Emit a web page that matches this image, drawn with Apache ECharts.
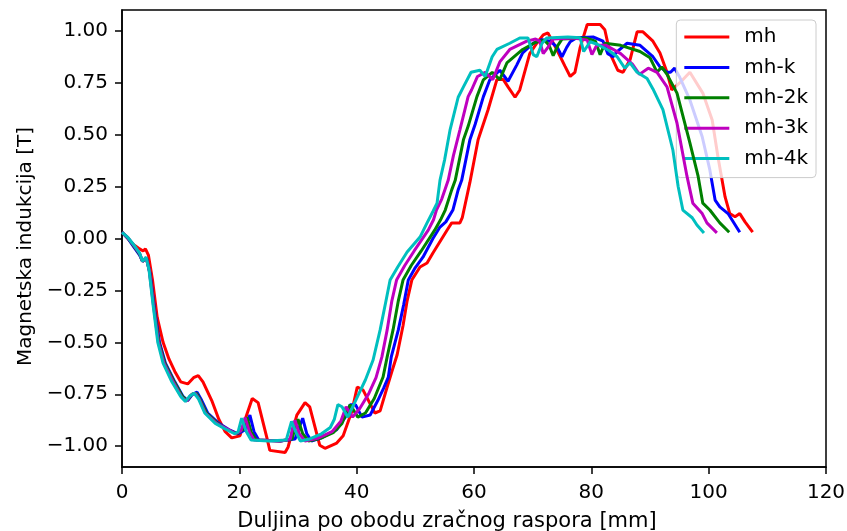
<!DOCTYPE html>
<html>
<head>
<meta charset="utf-8">
<script src="https://cdn.jsdelivr.net/npm/echarts@6/dist/echarts.min.js"></script>
<style>html,body{margin:0;padding:0;background:#fff}#c{width:847px;height:531px}</style>
</head>
<body>
<div id="c"></div>
<script>
const seriesNames = ['mh', 'mh-k', 'mh-2k', 'mh-3k', 'mh-4k'];
const seriesColors = ['#ff0000', '#0000ff', '#008000', '#bf00bf', '#00bfbf'];
const yTicks = [-1, -0.75, -0.5, -0.25, 0, 0.25, 0.5, 0.75, 1];

const mh = [[0,0.03],[1,0.0],[2,-0.03],[3,-0.05],[3.6,-0.06],[4.0,-0.05],[4.5,-0.08],[5.2,-0.2],[6,-0.38],[7,-0.5],[8,-0.58],[9,-0.64],[10,-0.69],[11.2,-0.70],[12.2,-0.67],[13,-0.66],[13.8,-0.69],[15.3,-0.78],[16.5,-0.87],[17.6,-0.93],[18.7,-0.96],[20.1,-0.95],[21,-0.87],[22.2,-0.77],[23.2,-0.79],[24.7,-0.96],[25.2,-1.02],[27.8,-1.03],[28.3,-1.005],[29.8,-0.85],[31.2,-0.79],[32,-0.81],[33.7,-0.995],[34.6,-1.01],[36.6,-0.985],[37.7,-0.95],[39.2,-0.83],[40.1,-0.715],[41.1,-0.73],[43.1,-0.84],[44,-0.83],[45.2,-0.715],[46,-0.64],[46.9,-0.56],[47.9,-0.42],[48.6,-0.3],[49.4,-0.2],[50.8,-0.137],[52,-0.118],[53,-0.07],[55.4,0.04],[56.2,0.075],[57.6,0.075],[58,0.10],[59.3,0.27],[60.7,0.475],[62.4,0.62],[63.9,0.765],[65,0.765],[65.8,0.73],[67,0.68],[67.8,0.715],[69.5,0.89],[70.7,0.94],[71.8,0.98],[72.6,0.99],[74.1,0.91],[75.5,0.83],[76.4,0.78],[77.2,0.80],[78.1,0.92],[79.3,1.03],[81.5,1.03],[82.3,1.005],[83.2,0.89],[84.5,0.81],[85.4,0.80],[86.6,0.86],[87.8,0.995],[88.8,0.995],[90.5,0.95],[91.7,0.893],[92.9,0.80],[93.7,0.715],[95.1,0.75],[96.8,0.80],[99,0.70],[100.6,0.57],[101.6,0.39],[102.8,0.20],[103.6,0.12],[104.5,0.105],[105.3,0.12],[106.2,0.08],[107.5,0.031]];

const mhK = [[0,0.03],[1,0.0],[2,-0.04],[3,-0.08],[3.5,-0.11],[4.2,-0.095],[4.8,-0.17],[5.6,-0.35],[6.4,-0.5],[7.4,-0.6],[9,-0.69],[10.4,-0.76],[11.2,-0.78],[12,-0.75],[12.8,-0.74],[13.6,-0.78],[14.6,-0.84],[16.5,-0.89],[18.2,-0.92],[19.8,-0.94],[21,-0.92],[21.8,-0.85],[22.5,-0.93],[23.3,-0.97],[27,-0.975],[29.5,-0.965],[30.2,-0.91],[30.8,-0.865],[31.5,-0.94],[32.3,-0.975],[34,-0.96],[36.6,-0.92],[38.3,-0.85],[38.9,-0.80],[39.8,-0.80],[40.9,-0.86],[42.3,-0.85],[43.6,-0.78],[44.6,-0.72],[45.4,-0.667],[45.9,-0.57],[47.1,-0.44],[48,-0.32],[48.8,-0.2],[50,-0.14],[51.3,-0.09],[53,0.0],[54.2,0.055],[55.2,0.08],[56.4,0.137],[57.3,0.234],[57.9,0.28],[59.3,0.475],[60.2,0.55],[61.6,0.683],[62.7,0.764],[64.4,0.81],[65.8,0.757],[67.3,0.836],[68.3,0.894],[70.1,0.94],[71.6,0.957],[73,0.95],[74.2,0.92],[75,0.875],[75.8,0.92],[76.4,0.947],[77.5,0.966],[80.3,0.97],[82,0.95],[82.8,0.89],[83.7,0.875],[84.4,0.90],[86.1,0.94],[88.3,0.93],[90.5,0.875],[91.7,0.826],[92.9,0.80],[93.5,0.80],[94.2,0.82],[95,0.78],[96.8,0.667],[98.9,0.49],[100.2,0.33],[101.1,0.185],[101.9,0.152],[103.3,0.12],[105.3,0.03]];

const mh2K = [[0,0.03],[1,0.003],[2,-0.035],[3,-0.075],[3.5,-0.11],[4.15,-0.093],[4.7,-0.16],[5.5,-0.34],[6.3,-0.5],[7.3,-0.6],[8.9,-0.69],[10.3,-0.76],[11.1,-0.78],[11.9,-0.75],[12.7,-0.745],[13.4,-0.78],[14.4,-0.84],[16.3,-0.89],[18,-0.92],[19.6,-0.94],[20.6,-0.92],[21.3,-0.86],[22,-0.93],[22.9,-0.97],[27,-0.975],[29,-0.965],[29.5,-0.91],[30,-0.87],[30.8,-0.94],[31.8,-0.975],[34,-0.96],[36,-0.935],[37.5,-0.89],[38.2,-0.84],[38.9,-0.80],[40.2,-0.86],[41.5,-0.84],[43,-0.77],[44.5,-0.667],[45.2,-0.57],[46.2,-0.44],[47.1,-0.30],[47.9,-0.2],[49.3,-0.13],[51,-0.06],[53.3,0.04],[54.3,0.09],[55.1,0.137],[56.2,0.234],[56.8,0.28],[58.2,0.475],[59,0.54],[60.5,0.683],[61.6,0.764],[63.1,0.80],[64.4,0.765],[65.6,0.845],[68.3,0.91],[70.5,0.945],[72,0.955],[72.8,0.93],[73.5,0.88],[74.3,0.93],[75,0.96],[79,0.965],[80.7,0.95],[81.5,0.885],[82.3,0.94],[85,0.93],[88.3,0.90],[90,0.87],[90.7,0.83],[91.2,0.80],[92,0.826],[92.9,0.79],[94.6,0.70],[96.8,0.46],[98.2,0.30],[99,0.17],[100.2,0.137],[101.9,0.075],[103.5,0.03]];

const mh3K = [[0,0.03],[1,0.004],[2,-0.033],[3,-0.072],[3.5,-0.11],[4.12,-0.092],[4.65,-0.155],[5.4,-0.33],[6.2,-0.5],[7.15,-0.6],[8.7,-0.69],[10.2,-0.765],[11,-0.783],[11.7,-0.755],[12.5,-0.745],[13.2,-0.775],[14.2,-0.84],[16.1,-0.89],[17.8,-0.915],[19.4,-0.94],[20.3,-0.925],[21,-0.862],[21.7,-0.93],[22.5,-0.97],[27,-0.975],[28.7,-0.965],[29.1,-0.91],[29.5,-0.875],[30.2,-0.94],[31.2,-0.975],[33.5,-0.96],[35.8,-0.93],[37.3,-0.88],[38.2,-0.81],[39.3,-0.86],[40.5,-0.82],[42,-0.75],[43.3,-0.67],[44.3,-0.57],[45.2,-0.44],[46,-0.30],[46.8,-0.2],[48.2,-0.13],[49.8,-0.06],[52.2,0.04],[53.1,0.09],[53.6,0.137],[54.5,0.19],[55.6,0.28],[56.5,0.40],[57.6,0.523],[59,0.683],[59.6,0.716],[60.6,0.78],[61.9,0.80],[63.2,0.765],[64.4,0.85],[66.1,0.91],[69,0.95],[70.5,0.96],[71.2,0.95],[71.8,0.89],[72.6,0.92],[73.5,0.96],[77,0.965],[79.3,0.955],[80.1,0.885],[80.9,0.93],[82.5,0.93],[85,0.89],[87,0.84],[88.2,0.79],[89.7,0.82],[91.2,0.80],[92.9,0.73],[94.6,0.556],[96.3,0.30],[97.3,0.17],[98.9,0.12],[99.7,0.075],[101.4,0.027]];

const mh4K = [[0,0.03],[1,0.005],[2,-0.03],[3,-0.07],[3.5,-0.11],[4.1,-0.09],[4.6,-0.15],[5.3,-0.32],[6.1,-0.5],[7,-0.6],[8.5,-0.69],[10,-0.76],[10.8,-0.785],[11.5,-0.76],[12.3,-0.745],[13,-0.77],[14.1,-0.84],[15.9,-0.89],[17.5,-0.915],[19.2,-0.94],[19.8,-0.93],[20.4,-0.865],[21.2,-0.93],[22,-0.97],[25,-0.975],[28,-0.97],[28.9,-0.88],[29.6,-0.93],[30.4,-0.975],[32,-0.965],[34,-0.94],[35.5,-0.91],[36.2,-0.87],[36.8,-0.80],[37.5,-0.81],[38.5,-0.86],[39.5,-0.80],[40.5,-0.74],[41.5,-0.68],[42.8,-0.585],[44,-0.44],[45,-0.30],[45.7,-0.2],[47,-0.137],[48.6,-0.065],[50.8,0.007],[52,0.075],[53,0.13],[53.7,0.17],[54.2,0.28],[55,0.38],[55.9,0.52],[57.3,0.68],[58.2,0.73],[59.5,0.80],[61,0.81],[61.9,0.78],[63.1,0.875],[63.9,0.91],[66.1,0.94],[67.8,0.965],[69.2,0.965],[70.1,0.885],[70.7,0.875],[71.6,0.94],[72.4,0.965],[76,0.97],[78.1,0.966],[78.7,0.90],[79.8,0.947],[81,0.935],[83,0.905],[84.4,0.875],[85.7,0.82],[86.6,0.846],[87.8,0.80],[89.5,0.77],[90.5,0.72],[92.2,0.62],[93.9,0.426],[94.8,0.25],[95.6,0.137],[97.2,0.10],[98,0.065],[99.2,0.027]];

const seriesData = [mh, mhK, mh2K, mh3K, mh4K];

const FONT = 'DejaVu Sans';
const chart = echarts.init(document.getElementById('c'), null, {renderer: 'canvas'});
chart.setOption({
  animation: false,
  backgroundColor: '#ffffff',
  grid: {left: 122, right: 21, top: 10, bottom: 64, containLabel: false, outerBoundsMode: 'none',
    show: true, borderColor: '#000', borderWidth: 1.5, backgroundColor: 'transparent'},
  xAxis: {
    type: 'value', min: 0, max: 120, interval: 20,
    name: 'Duljina po obodu zračnog raspora [mm]', nameLocation: 'middle', nameGap: 44,
    nameTextStyle: {fontFamily: FONT, fontSize: 21, color: '#000', padding: [0, 54, 0, 0]},
    axisLine: {show: true, onZero: false, lineStyle: {color: '#000', width: 1.5}},
    axisTick: {show: true, inside: false, length: 7, lineStyle: {color: '#000', width: 1.5}},
    axisLabel: {fontFamily: FONT, fontSize: 20, color: '#000', margin: 16},
    splitLine: {show: false}
  },
  yAxis: {
    type: 'value', min: -1.1, max: 1.1,
    name: 'Magnetska indukcija [T]', nameLocation: 'middle', nameGap: 86,
    nameTextStyle: {fontFamily: FONT, fontSize: 20, color: '#000', padding: [0, 16, 0, 0]},
    axisLine: {show: true, onZero: false, lineStyle: {color: '#000', width: 1.5}},
    axisTick: {show: true, inside: false, length: 7, lineStyle: {color: '#000', width: 1.5}, customValues: yTicks},
    axisLabel: {fontFamily: FONT, fontSize: 20, color: '#000', margin: 14, customValues: yTicks,
      formatter: v => (v < 0 ? '\u2212' : '') + Math.abs(v).toFixed(2)},
    splitLine: {show: false}
  },
  legend: {
    orient: 'vertical', right: 31, top: 20,
    itemWidth: 45, itemHeight: 20, itemGap: 10.4,
    padding: [7, 8, 9, 8],
    backgroundColor: 'rgba(255,255,255,0.8)', borderColor: '#cccccc', borderWidth: 1, borderRadius: 4,
    textStyle: {fontFamily: FONT, fontSize: 20, lineHeight: 20, color: '#000', padding: [0, 0, 0, 10]},
    data: seriesNames.map(n => ({name: n, icon: 'path://M0,0 L45,0 L45,3 L0,3 Z'}))
  },
  series: seriesNames.map((n, i) => ({
    name: n, type: 'line', data: seriesData[i], showSymbol: false, symbol: 'none',
    lineStyle: {color: seriesColors[i], width: 3}, itemStyle: {color: seriesColors[i]},
    z: 2 + i
  }))
});
</script>
</body>
</html>
